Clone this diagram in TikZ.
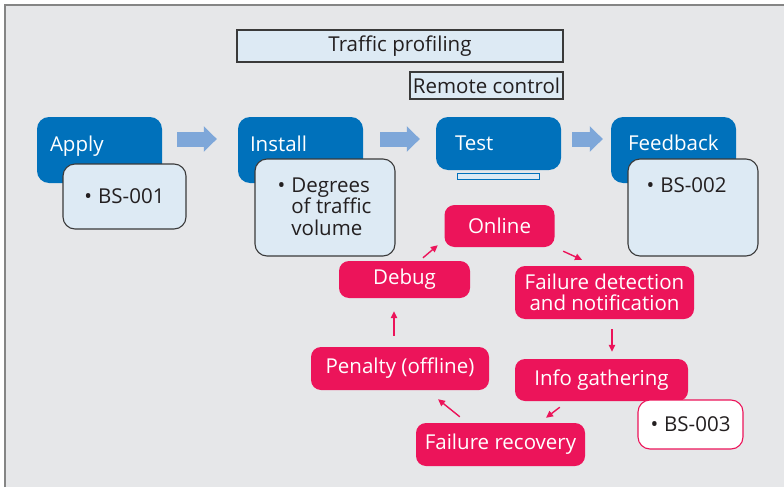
\documentclass[tikz,border=0pt]{standalone}
\usepackage{fontspec}
\setmainfont{Open Sans}
\usetikzlibrary{arrows.meta}

\definecolor{panel}{HTML}{E6E7E9}
\definecolor{framegray}{HTML}{858585}
\definecolor{paleblue}{HTML}{DDEAF4}
\definecolor{stageblue}{HTML}{0071BB}
\definecolor{flowblue}{HTML}{7EA7D9}
\definecolor{loopred}{HTML}{EC145A}
\definecolor{inkdark}{HTML}{231F20}
\definecolor{edgedark}{HTML}{3A3A3A}

\tikzset{
  every node/.style={font=\fontsize{20.5}{21.5}\selectfont, inner sep=0pt},
  stagebox/.style={fill=stageblue, rounded corners=12pt, minimum width=125pt, minimum height=66pt},
  stagelabel/.style={text=white, anchor=base west},
  notebox/.style={fill=paleblue, draw=edgedark, line width=1.1pt, rounded corners=12pt, text=inkdark},
  banner/.style={fill=paleblue, draw=edgedark, line width=1.1pt, text=inkdark},
  loopbox/.style={fill=loopred, rounded corners=10pt, text=white, align=center},
  flowarrow/.style={draw=flowblue, line width=15pt, line cap=butt, -{Triangle[length=13pt,width=25pt]}},
  looparrow/.style={draw=loopred, line width=1.4pt, -{Triangle[length=7pt,width=6.5pt]}},
}

\begin{document}
\begin{tikzpicture}[x=1pt,y=-1pt]
  \useasboundingbox (0,0) rectangle (784,487);

  % framed panel
  \fill[panel] (5,5) rectangle (784,487);
  \draw[framegray, line width=2pt] (5,487) -- (5,5) -- (784,5);

  % banners
  \node[banner, minimum width=326pt, minimum height=32pt] (traffic) at (400,46) {Traffic profiling};
  \node[banner, line width=1.4pt, minimum width=153pt, minimum height=27pt] (remote) at (486.5,85.5) {Remote control};

  % stages
  \node[stagebox] (apply) at (99.5,150) {};
  \node[stagelabel] (applyt) at ([xshift=13pt,yshift=-35pt]apply.north west) {Apply};
  \node[notebox, minimum width=123pt, minimum height=65pt] (bs1) at (124.5,196.5) {\textbullet\hspace{6pt}BS-001};

  \node[stagebox] (install) at (300.5,150) {};
  \node[stagelabel] (installt) at ([xshift=12pt,yshift=-35pt]install.north west) {Install};
  \node[notebox, minimum width=140pt, minimum height=97pt] (deg) at (325,207.5) {};
  \node[anchor=base west, text=inkdark] (degt) at ([xshift=23pt,yshift=-34pt]deg.north west)
    {\textbullet\hspace{6pt}\parbox[t]{100pt}{Degrees\\of traffic\\volume}};

  \node[stagebox, minimum height=53pt] (test) at (498.5,143.5) {};
  \node[stagelabel] (testt) at ([xshift=19pt,yshift=-34pt]test.north west) {Test};
  \node[fill=paleblue, draw=stageblue, line width=1pt, minimum width=82pt, minimum height=6pt] (testbar) at (498,176) {};

  \node[stagebox] (feedback) at (673.5,150) {};
  \node[stagelabel] (feedbackt) at ([xshift=17pt,yshift=-34pt]feedback.north west) {Feedback};
  \node[notebox, minimum width=130pt, minimum height=97pt] (bs2) at (693,207.5) {};
  \node[anchor=base west, text=inkdark] (bs2t) at ([xshift=19pt,yshift=-34pt]bs2.north west) {\textbullet\hspace{6pt}BS-002};

  % stage flow
  \draw[flowarrow] ([xshift=15pt,yshift=11pt]apply.east) -- ([xshift=-21pt,yshift=11pt]install.west);
  \draw[flowarrow] ([xshift=17pt,yshift=11pt]install.east) -- ([xshift=-16pt,yshift=4.5pt]test.west);
  \draw[flowarrow] ([xshift=11pt,yshift=4.5pt]test.east) -- ([xshift=-8pt,yshift=11pt]feedback.west);

  % failure handling loop
  \node[loopbox, minimum width=110pt, minimum height=42pt] (online) at (499.5,226) {Online};
  \node[loopbox, minimum width=179pt, minimum height=53pt] (detect) at (604.5,292.5) {Failure detection\\and notification};
  \node[loopbox, minimum width=173pt, minimum height=42pt] (info) at (601.5,380) {Info gathering};
  \node[notebox, fill=white, draw=loopred, minimum width=105pt, minimum height=49pt] (bs3) at (690.5,424.5) {\textbullet\hspace{6pt}BS-003};
  \node[loopbox, minimum width=169pt, minimum height=43pt] (recovery) at (500.5,444.5) {Failure recovery};
  \node[loopbox, minimum width=178pt, minimum height=43pt] (penalty) at (400,368.5) {Penalty (offline)};
  \node[loopbox, minimum width=131pt, minimum height=37pt] (debug) at (404.5,279.5) {Debug};

  \draw[looparrow] ([xshift=18.5pt,yshift=3pt]debug.north) -- ([xshift=-6.5pt,yshift=2pt]online.south west);
  \draw[looparrow] ([xshift=8.5pt,yshift=-4pt]online.south east) -- ([xshift=-22.5pt,yshift=6pt]detect.north);
  \draw[looparrow] ([xshift=7.5pt,yshift=-10pt]detect.south) -- ([xshift=10.5pt,yshift=7pt]info.north);
  \draw[looparrow] ([xshift=45pt,yshift=-6pt]info.south west) -- ([xshift=45.5pt,yshift=5pt]recovery.north);
  \draw[looparrow] ([xshift=44pt,yshift=6pt]recovery.north west) -- ([xshift=38pt,yshift=-9pt]penalty.south);
  \draw[looparrow] ([xshift=-6pt,yshift=11pt]penalty.north) -- ([xshift=-10.5pt,yshift=-13pt]debug.south);
\end{tikzpicture}
\end{document}
